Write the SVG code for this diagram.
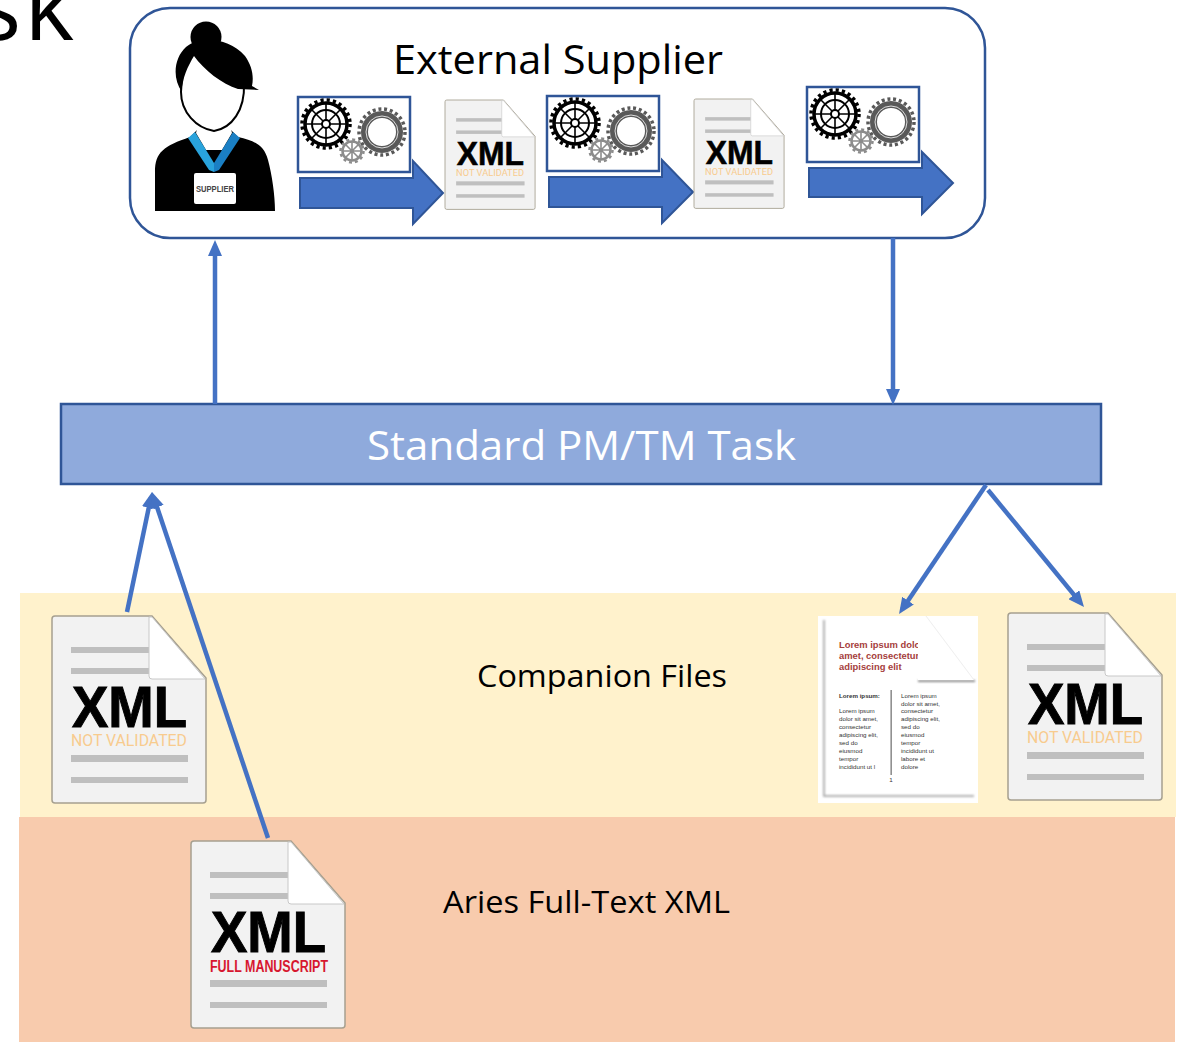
<svg xmlns="http://www.w3.org/2000/svg" xmlns:xlink="http://www.w3.org/1999/xlink" width="1186" height="1042" viewBox="0 0 1186 1042">
<style>
.lbl{font-family:"Open Sans","Liberation Sans",sans-serif;fill:#000}
.conn{fill:none;stroke:#4472c4;stroke-width:4.5;marker-end:url(#ah)}
.blk{fill:#4472c4;stroke:#2f5597;stroke-width:2}
.xml{font-family:"Liberation Sans",Arial,sans-serif;font-weight:700;font-size:57px;fill:#000;stroke:#000;stroke-width:1}
.sub{font-family:"Roboto","Liberation Sans",sans-serif;font-size:17px}
.gl{fill:#bfbfbf}
.lo{font-family:"Liberation Sans",Arial,sans-serif;font-size:6.2px;fill:#333}
.lr{font-family:"Liberation Sans",Arial,sans-serif;font-size:9.4px;font-weight:700;fill:#a5403c}
</style>
<defs>
<marker id="ah" markerUnits="userSpaceOnUse" markerWidth="16" markerHeight="14" refX="10" refY="7" orient="auto"><path d="M0,0L16,7L0,14z" fill="#4472c4"/></marker>
<filter id="soft" x="-10%" y="-10%" width="120%" height="120%"><feGaussianBlur stdDeviation="1.2"/></filter>
<g id="docbase">
<path d="M3,0H100L154,62V184q0,3 -3,3H3q-3,0 -3,-3V3q0,-3 3,-3z" fill="#f2f2f2" stroke="#a6a090" stroke-width="1.5"/>
<rect class="gl" x="19" y="31" width="78" height="6"/>
<rect class="gl" x="19" y="52" width="78" height="6"/>
<path d="M97,1V60q0,3 3,3H153L100,1z" fill="#fff" stroke="#c8c8c8" stroke-width="1"/>
<text class="xml" x="20" y="111" textLength="115" lengthAdjust="spacingAndGlyphs">XML</text>
<rect class="gl" x="19" y="139" width="117" height="7"/>
<rect class="gl" x="19" y="161" width="117" height="6"/>
</g>
<g id="docnv">
<use xlink:href="#docbase" href="#docbase"/>
<text class="sub" x="19" y="130" textLength="116" lengthAdjust="spacingAndGlyphs" fill="#f8cb8e">NOT VALIDATED</text>
</g>
<g id="gears">
<rect x="0" y="0" width="112" height="75" fill="#fff" stroke="#2f5597" stroke-width="2.5"/>
<g fill="none" stroke="#000">
<circle cx="28" cy="27" r="21" stroke-width="3.5"/>
<circle cx="28" cy="27" r="24" stroke-width="3.5" stroke-dasharray="3.2 3.08"/>
<circle cx="28" cy="27" r="14" stroke-width="2"/>
<path d="M28,6V48M7,27H49M13,12L43,42M43,12L13,42" stroke-width="1.6"/>
<circle cx="28" cy="27" r="4" fill="#fff" stroke-width="2"/>
</g>
<g fill="none" stroke="#595959">
<circle cx="84" cy="35" r="17.5" stroke-width="7"/>
<circle cx="84" cy="35" r="23" stroke-width="3.5" stroke-dasharray="3 2.78"/>
</g>
<circle cx="84" cy="35" r="16" fill="none" stroke="#fff" stroke-width="0.8"/>
<g fill="none" stroke="#8c8c8c">
<circle cx="54" cy="54" r="9.5" stroke-width="2.5" fill="#fff"/>
<circle cx="54" cy="54" r="11.5" stroke-width="2.5" stroke-dasharray="3 3"/>
<path d="M54,44V64M44,54H64M47,47L61,61M61,47L47,61" stroke-width="1.6"/>
</g>
</g>
</defs>
<rect width="1186" height="1042" fill="#fff"/>
<g id="band-companion"><rect x="20" y="593" width="1156" height="224" fill="#fff2cc"/><text class="lbl" x="477" y="687" font-size="31" textLength="250" lengthAdjust="spacingAndGlyphs">Companion Files</text></g>
<g id="band-aries"><rect x="19" y="817" width="1156" height="225" fill="#f8cbad"/><text class="lbl" x="443" y="913" font-size="31" textLength="287" lengthAdjust="spacingAndGlyphs">Aries Full-Text XML</text></g>
<g id="title-fragment"><text class="lbl" x="-24" y="40" font-size="95" letter-spacing="3">sk</text></g>
<g id="external-supplier">
<rect x="130" y="8" width="855" height="230" rx="40" ry="40" fill="#fff" stroke="#2f5597" stroke-width="2.5"/>
<text class="lbl" x="393" y="74" font-size="40" textLength="330" lengthAdjust="spacingAndGlyphs">External Supplier</text>
</g>
<g id="supplier-person">
<path d="M155,211V172C155,152 164,146 190,137L200,127H228L238,137C255,141 264,145 268,160C272,175 275,195 275,211z" fill="#000"/>
<path d="M196,133L206,150H222L232,133L230,125H198z" fill="#fff"/>
<path d="M188,138L195,132L214,163V172L209,170z" fill="#29a3dc"/>
<path d="M240,138L233,132L214,163V172L219,170z" fill="#1a7fc4"/>
<path d="M181,92C181,112 196,128 214,131C232,128 245,110 244,84C240,70 215,50 196,52C186,58 181,75 181,92z" fill="#fff" stroke="#000" stroke-width="2"/>
<circle cx="206" cy="37" r="15.5" fill="#000"/>
<path d="M182,92C172,78 174,58 186,47C198,36 228,36 245,56C252,66 254,76 252,86L259,90L238,89C222,84 204,70 194,56C188,66 182,78 182,92z" fill="#000"/>
<rect x="194" y="173" width="42" height="31" rx="2" fill="#fff"/>
<text x="215" y="192" font-family="Liberation Sans,Arial,sans-serif" font-size="8.5" font-weight="700" fill="#444" text-anchor="middle" textLength="38" lengthAdjust="spacingAndGlyphs">SUPPLIER</text>
</g>
<g id="step-1">
<path class="blk" d="M300,178H413V161L443,193L413,224V208H300z"/>
<use xlink:href="#gears" href="#gears" x="298" y="97"/>
</g>
<g id="doc-small-1"><use xlink:href="#docnv" href="#docnv" transform="translate(445,100) scale(.585)"/></g>
<g id="step-2">
<path class="blk" d="M549,177H662V160L693,192L662,223V207H549z"/>
<use xlink:href="#gears" href="#gears" x="547" y="96"/>
</g>
<g id="doc-small-2"><use xlink:href="#docnv" href="#docnv" transform="translate(694,99) scale(.585)"/></g>
<g id="step-3">
<path class="blk" d="M809,168H922V152L953,183L922,214V197H809z"/>
<use xlink:href="#gears" href="#gears" x="807" y="87"/>
</g>
<g id="task">
<rect x="61" y="404" width="1040" height="80" fill="#8faadc" stroke="#2f5597" stroke-width="2.5"/>
<text x="367" y="460" font-family="Open Sans,Liberation Sans,sans-serif" font-size="41" fill="#fff" textLength="429" lengthAdjust="spacingAndGlyphs">Standard PM/TM Task</text>
</g>
<g id="doc-xml-left"><use xlink:href="#docnv" href="#docnv" x="52" y="616"/></g>
<g id="doc-xml-right"><use xlink:href="#docnv" href="#docnv" x="1008" y="613"/></g>
<g id="doc-xml-full">
<use xlink:href="#docbase" href="#docbase" x="191" y="841"/>
<text x="210" y="972" font-family="Liberation Sans,Arial,sans-serif" font-size="16" font-weight="700" fill="#d7172f" textLength="118" lengthAdjust="spacingAndGlyphs">FULL MANUSCRIPT</text>
</g>
<g id="doc-lorem">
<rect x="818" y="616" width="160" height="187" fill="#fff"/>
<path d="M824,620V796H974" fill="none" stroke="#999" stroke-width="1.5" filter="url(#soft)"/>
<text class="lr" x="839" y="648">Lorem ipsum dolor sit</text>
<text class="lr" x="839" y="659">amet, consectetur</text>
<text class="lr" x="839" y="670">adipiscing elit</text>
<text class="lo" x="839" y="698" font-weight="700" fill="#000">Lorem ipsum:</text>
<text class="lo" x="839" y="713">Lorem ipsum</text>
<text class="lo" x="839" y="721">dolor sit amet,</text>
<text class="lo" x="839" y="729">consectetur</text>
<text class="lo" x="839" y="737">adipiscing elit,</text>
<text class="lo" x="839" y="745">sed do</text>
<text class="lo" x="839" y="753">eiusmod</text>
<text class="lo" x="839" y="761">tempor</text>
<text class="lo" x="839" y="769">incididunt ut l</text>
<text class="lo" x="901" y="698">Lorem ipsum</text>
<text class="lo" x="901" y="706">dolor sit amet,</text>
<text class="lo" x="901" y="713">consectetur</text>
<text class="lo" x="901" y="721">adipiscing elit,</text>
<text class="lo" x="901" y="729">sed do</text>
<text class="lo" x="901" y="737">eiusmod</text>
<text class="lo" x="901" y="745">tempor</text>
<text class="lo" x="901" y="753">incididunt ut</text>
<text class="lo" x="901" y="761">labore et</text>
<text class="lo" x="901" y="769">dolore</text>
<rect x="890.5" y="690" width="1.3" height="85" fill="#777"/>
<text class="lo" x="891" y="782" text-anchor="middle">1</text>
<path d="M918,620V680H975V682H918z" fill="#888" filter="url(#soft)"/>
<path d="M918,616V680H974L926,616z" fill="#fff"/>
<path d="M926,616L974,680" fill="none" stroke="#eee"/>
</g>
<g id="connectors">
<path class="conn" d="M215,404V246"/>
<path class="conn" d="M893,238V399"/>
<path class="conn" d="M127,612L150.8,497.9"/>
<path class="conn" d="M268,838L153.9,497.7"/>
<path class="conn" d="M986,485L902.4,609"/>
<path class="conn" d="M988,490L1080.2,602.4"/>
</g>
</svg>
